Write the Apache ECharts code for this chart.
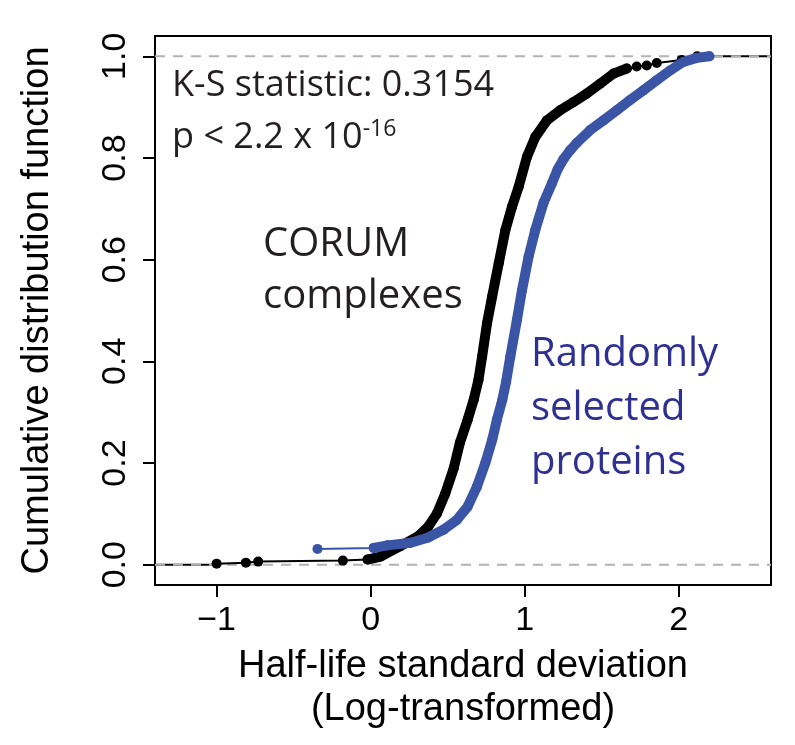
<!DOCTYPE html>
<html>
<head>
<meta charset="utf-8">
<script src="https://cdn.jsdelivr.net/npm/echarts@6/dist/echarts.min.js"></script>
<style>
html,body{margin:0;padding:0;background:#fff;}
#chart{width:795px;height:745px;}
</style>
</head>
<body>
<div id="chart"></div>
<script>
// ---- Data ----
const corumX = [-1.0, -0.81, -0.73, -0.18, -0.02, 0.065, 0.19, 0.31, 0.375, 0.43, 0.485, 0.54, 0.58, 0.63, 0.67, 0.70, 0.724, 0.756, 0.789, 0.832, 0.875, 0.918, 0.961, 1.015, 1.069, 1.145, 1.231, 1.318, 1.404, 1.49, 1.577, 1.664, 1.728, 1.793, 1.858, 2.02, 2.12];
const corumY = [0.002, 0.004, 0.006, 0.008, 0.010, 0.016, 0.036, 0.056, 0.075, 0.10, 0.14, 0.19, 0.24, 0.285, 0.325, 0.363, 0.409, 0.475, 0.527, 0.593, 0.658, 0.704, 0.743, 0.802, 0.841, 0.874, 0.894, 0.910, 0.927, 0.946, 0.966, 0.976, 0.980, 0.982, 0.987, 0.993, 1.0];
const randomX = [-0.345, 0.02, 0.11, 0.26, 0.37, 0.475, 0.56, 0.63, 0.69, 0.745, 0.79, 0.82, 0.855, 0.88, 0.907, 0.95, 0.983, 1.026, 1.069, 1.123, 1.177, 1.215, 1.253, 1.295, 1.34, 1.426, 1.512, 1.599, 1.685, 1.771, 1.858, 1.944, 2.03, 2.117, 2.20];
const randomY = [0.031, 0.033, 0.038, 0.043, 0.053, 0.069, 0.088, 0.114, 0.153, 0.20, 0.246, 0.285, 0.324, 0.36, 0.409, 0.481, 0.540, 0.606, 0.658, 0.712, 0.750, 0.778, 0.798, 0.815, 0.830, 0.855, 0.874, 0.894, 0.914, 0.933, 0.953, 0.972, 0.989, 0.997, 1.0];

const xTicks = [-1, 0, 1, 2];
const xTickLabels = ['\u22121', '0', '1', '2'];
const yTicks = [0, 0.2, 0.4, 0.6, 0.8, 1.0];
const yTickLabels = ['0.0', '0.2', '0.4', '0.6', '0.8', '1.0'];
const refLevels = [0, 1];

const xRange = [-1.4, 2.6];
const yRange = [-0.04, 1.04];

// dense (thick) parts of each curve, as index ranges
const corumDense = [4, 32];
const randomDense = [1, 35];

// ---- Build ----
const zip = (xs, ys) => xs.map((x, i) => [x, ys[i]]);
const corumPts = zip(corumX, corumY);
const randomPts = zip(randomX, randomY);

const BLACK = '#000000';
const BLUE = '#3a54a6';
const TEXT_DARK = '#231f20';
const TEXT_BLUE = '#2e3192';
const AXIS_FONT = '"Liberation Sans", Arial, sans-serif';
const ANNO_FONT = '"Open Sans", "Noto Sans", sans-serif';

const chart = echarts.init(document.getElementById('chart'), null, {renderer: 'canvas'});

const series = [];
// step-function extensions of the CORUM ECDF to the plot edges
series.push({
  type: 'line', z: 1, silent: true, symbol: 'none',
  data: [[xRange[0], 0], [corumX[0], 0]],
  lineStyle: {color: BLACK, width: 2}
});
series.push({
  type: 'line', z: 1, silent: true, symbol: 'none',
  data: [[corumX[corumX.length - 1], 1], [xRange[1], 1]],
  lineStyle: {color: BLACK, width: 2}
});
// gray dashed reference lines at 0 and 1
refLevels.forEach(v => series.push({
  type: 'line', z: 2, silent: true, symbol: 'none',
  data: [[xRange[0], v], [xRange[1], v]],
  lineStyle: {color: '#b3b3b3', width: 2, type: [10, 8]}
}));
// CORUM
series.push({
  type: 'line', z: 3, silent: true, symbol: 'circle', symbolSize: 10, showAllSymbol: true,
  data: corumPts,
  itemStyle: {color: BLACK}, lineStyle: {color: BLACK, width: 2}
});
series.push({
  type: 'line', z: 3, silent: true, symbol: 'none',
  data: corumPts.slice(corumDense[0], corumDense[1]),
  lineStyle: {color: BLACK, width: 10, cap: 'round', join: 'round'}
});
// Random
series.push({
  type: 'line', z: 4, silent: true, symbol: 'circle', symbolSize: 10, showAllSymbol: true,
  data: randomPts,
  itemStyle: {color: BLUE}, lineStyle: {color: BLUE, width: 2}
});
series.push({
  type: 'line', z: 4, silent: true, symbol: 'none',
  data: randomPts.slice(randomDense[0], randomDense[1]),
  lineStyle: {color: BLUE, width: 10, cap: 'round', join: 'round'}
});

const option = {
  animation: false,
  backgroundColor: '#ffffff',
  grid: {left: 155, right: 24, top: 36, bottom: 160, show: true, borderColor: BLACK, borderWidth: 2, backgroundColor: 'transparent'},
  xAxis: {
    type: 'value', min: xRange[0], max: xRange[1],
    splitLine: {show: false},
    axisLine: {show: true, onZero: false, lineStyle: {color: BLACK, width: 2}},
    axisTick: {show: true, inside: false, length: 12, customValues: xTicks, lineStyle: {color: BLACK, width: 2}},
    axisLabel: {show: true, customValues: xTicks, margin: 19, color: BLACK, fontSize: 34, fontFamily: AXIS_FONT,
      formatter: v => { const i = xTicks.findIndex(t => Math.abs(t - v) < 1e-9); return i >= 0 ? xTickLabels[i] : ''; }},
    name: 'Half-life standard deviation\n(Log-transformed)',
    nameLocation: 'middle', nameGap: 60,
    nameTextStyle: {color: BLACK, fontSize: 38, fontFamily: AXIS_FONT, lineHeight: 43}
  },
  yAxis: {
    type: 'value', min: yRange[0], max: yRange[1],
    splitLine: {show: false},
    axisLine: {show: true, onZero: false, lineStyle: {color: BLACK, width: 2}},
    axisTick: {show: true, inside: false, length: 12, customValues: yTicks, lineStyle: {color: BLACK, width: 2}},
    axisLabel: {show: true, customValues: yTicks, rotate: 90, margin: 22, color: BLACK, fontSize: 34, fontFamily: AXIS_FONT,
      formatter: v => { const i = yTicks.findIndex(t => Math.abs(t - v) < 1e-9); return i >= 0 ? yTickLabels[i] : ''; }},
    name: 'Cumulative distribution function',
    nameLocation: 'middle', nameGap: 98,
    nameTextStyle: {color: BLACK, fontSize: 38, fontFamily: AXIS_FONT}
  },
  graphic: [
    {type: 'text', left: 172, top: 66, silent: true,
      style: {text: 'K-S statistic: 0.3154', font: '36px ' + ANNO_FONT, fill: TEXT_DARK, lineHeight: 40}},
    {type: 'text', left: 172, top: 118, silent: true,
      style: {text: '{a|p < 2.2 x 10}{b|-16}', fill: TEXT_DARK,
        rich: {a: {fontSize: 36, fontFamily: ANNO_FONT, lineHeight: 40, color: TEXT_DARK},
               b: {fontSize: 23, fontFamily: ANNO_FONT, lineHeight: 23, verticalAlign: 'top', color: TEXT_DARK}}}},
    {type: 'text', left: 263, top: 219, silent: true,
      style: {text: 'CORUM\ncomplexes', font: '40px ' + ANNO_FONT, fill: TEXT_DARK, lineHeight: 52}},
    {type: 'text', left: 531, top: 328, silent: true,
      style: {text: 'Randomly\nselected\nproteins', font: '40px ' + ANNO_FONT, fill: TEXT_BLUE, lineHeight: 54}}
  ],
  series: series
};
chart.setOption(option);
</script>
</body>
</html>
